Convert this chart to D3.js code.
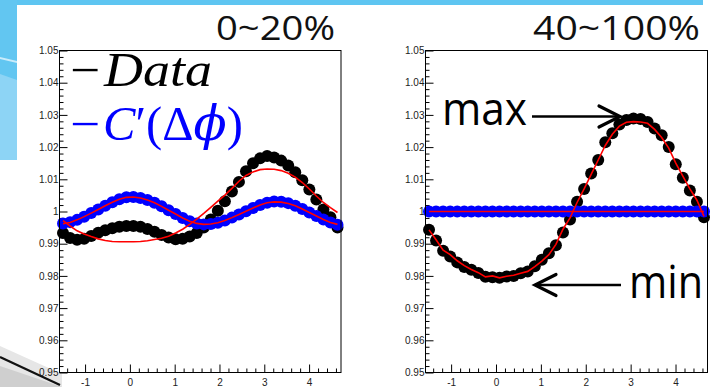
<!DOCTYPE html>
<html>
<head>
<meta charset="utf-8">
<script src="https://cdn.jsdelivr.net/npm/d3@7"></script>
<style>
  html, body { margin: 0; padding: 0; background: #fff; }
  svg { display: block; }
</style>
</head>
<body>
<div id="chart"></div>
<script>
// histogram binning in delta phi
const nBins = 40;
const phiLo = -Math.PI / 2;
const phiHi = 3 * Math.PI / 2;

// 0~20% panel
const leftData = [
  0.9933, 0.9918, 0.9912, 0.9915, 0.9924, 0.9934, 0.9942, 0.9948, 0.9953, 0.9955,
  0.9955, 0.9953, 0.9946, 0.9937, 0.9927, 0.9919, 0.9914, 0.9915, 0.9922, 0.9933,
  0.9950, 0.9975, 1.0002, 1.0032, 1.0062, 1.0092, 1.0125, 1.0150, 1.0165, 1.0172,
  1.0168, 1.0158, 1.0143, 1.0122, 1.0097, 1.0068, 1.0037, 1.0006, 0.9982, 0.9950
];
const leftCorr = [
  0.9963, 0.9967, 0.9974, 0.9984, 0.9995, 1.0006, 1.0018, 1.0029, 1.0038, 1.0044,
  1.0045, 1.0042, 1.0036, 1.0027, 1.0016, 1.0004, 0.9992, 0.9980, 0.9970, 0.9963,
  0.9960, 0.9961, 0.9965, 0.9972, 0.9981, 0.9991, 1.0001, 1.0011, 1.0020, 1.0027,
  1.0031, 1.0030, 1.0026, 1.0018, 1.0008, 0.9997, 0.9986, 0.9975, 0.9966, 0.9959
];
const leftDataFit = [
  0.9972, 0.9955, 0.9940, 0.9930, 0.9922, 0.9915, 0.9910, 0.9907, 0.9906, 0.9906,
  0.9906, 0.9907, 0.9909, 0.9913, 0.9917, 0.9923, 0.9933, 0.9945, 0.9960, 0.9976,
  0.9994, 1.0013, 1.0032, 1.0051, 1.0072, 1.0094, 1.0112, 1.0123, 1.0130, 1.0132,
  1.0131, 1.0127, 1.0119, 1.0107, 1.0090, 1.0070, 1.0048, 1.0028, 1.0012, 0.9997
];
const leftCorrFit = [
  0.9962, 0.9966, 0.9974, 0.9984, 0.9995, 1.0006, 1.0018, 1.0029, 1.0038, 1.0044,
  1.0045, 1.0042, 1.0036, 1.0027, 1.0016, 1.0004, 0.9992, 0.9980, 0.9970, 0.9963,
  0.9960, 0.9961, 0.9965, 0.9972, 0.9981, 0.9991, 1.0001, 1.0011, 1.0020, 1.0027,
  1.0030, 1.0029, 1.0025, 1.0018, 1.0008, 0.9997, 0.9986, 0.9975, 0.9966, 0.9960
];

// 40~100% panel
const rightData = [
  0.9943, 0.9910, 0.9878, 0.9860, 0.9842, 0.9828, 0.9819, 0.9809, 0.9797, 0.9796,
  0.9794, 0.9798, 0.9800, 0.9808, 0.9814, 0.9830, 0.9850, 0.9870, 0.9895, 0.9935,
  0.9975, 1.0030, 1.0070, 1.0118, 1.0160, 1.0215, 1.0243, 1.0270, 1.0284, 1.0289,
  1.0287, 1.0278, 1.0258, 1.0237, 1.0200, 1.0147, 1.0105, 1.0065, 1.0030, 0.9982
];
const rightCorr = [
  1.0000, 1.0000, 1.0000, 1.0000, 1.0000, 1.0000, 1.0000, 1.0000, 1.0000, 1.0000,
  1.0000, 1.0000, 1.0000, 1.0000, 1.0000, 1.0000, 1.0000, 1.0000, 1.0000, 1.0000,
  1.0000, 1.0000, 1.0000, 1.0000, 1.0000, 1.0000, 1.0000, 1.0000, 1.0000, 1.0000,
  1.0000, 1.0000, 1.0000, 1.0000, 1.0000, 1.0000, 1.0000, 1.0000, 1.0000, 1.0000
];
const rightDataFit = [
  0.9943, 0.9912, 0.9880, 0.9866, 0.9847, 0.9832, 0.9820, 0.9810, 0.9797, 0.9800,
  0.9794, 0.9799, 0.9802, 0.9808, 0.9814, 0.9829, 0.9846, 0.9866, 0.9898, 0.9945,
  0.9980, 1.0028, 1.0070, 1.0115, 1.0160, 1.0205, 1.0240, 1.0265, 1.0277, 1.0279,
  1.0278, 1.0274, 1.0255, 1.0230, 1.0197, 1.0150, 1.0110, 1.0070, 1.0035, 0.9985
];
const rightCorrFit = rightCorr;

const panelTitles = ['0~20%', '40~100%'];
const legendLabels = ['Data', "C′(Δϕ)"];

const width = 712;
const height = 387;
const yTop = 50.5;
const yBottom = 372.5;

const svg = d3.select('#chart')
  .append('svg')
  .attr('width', width)
  .attr('height', height);

// slide decoration
svg.append('rect').attr('x', 0).attr('y', 0).attr('width', 703).attr('height', 5).attr('fill', '#5ec5f1');
svg.append('rect').attr('x', 0).attr('y', 0).attr('width', 17).attr('height', 160).attr('fill', '#62c6f1');
svg.append('path').attr('d', 'M0,74 L17,80 L17,160 L0,160 Z').attr('fill', '#8dd4f5');
svg.append('path').attr('d', 'M0,57 L17,61 L17,63 L0,59 Z').attr('fill', '#c9ecfb');
svg.append('path').attr('d', 'M0,346 L62,374 L62,387 L0,387 Z').attr('fill', '#e6e6e6');
svg.append('path').attr('d', 'M0,366 L62,387 L0,387 Z').attr('fill', '#cfcfcf');
svg.append('path').attr('d', 'M0,357 L60,385').attr('stroke', '#111').attr('stroke-width', 2.2);

const fmtY = (d) => String(+d.toFixed(2));

const panels = [
  { x0: 59.5, x1: 341, data: leftData, corr: leftCorr, dataFit: leftDataFit, corrFit: leftCorrFit,
    title: panelTitles[0], titleX: 216, titleW: 119 },
  { x0: 425.5, x1: 707.5, data: rightData, corr: rightCorr, dataFit: rightDataFit, corrFit: rightCorrFit,
    title: panelTitles[1], titleX: 533, titleW: 167 }
];

const binWidth = (phiHi - phiLo) / nBins;
const centers = d3.range(nBins).map((i) => phiLo + (i + 0.5) * binWidth);

panels.forEach((p) => {
  const g = svg.append('g');

  const x = d3.scaleLinear().domain([phiLo, phiHi]).range([p.x0, p.x1]);
  const y = d3.scaleLinear().domain([0.95, 1.05]).range([yBottom, yTop]);

  g.append('rect')
    .attr('x', p.x0).attr('y', yTop)
    .attr('width', p.x1 - p.x0).attr('height', yBottom - yTop)
    .attr('fill', '#fff');

  // y axis
  const yMajor = d3.range(0, 11).map((k) => 0.95 + k * 0.01);
  const yMinor = d3.range(0, 51).map((k) => 0.95 + k * 0.002).filter((v, k) => k % 5 !== 0);
  const yAxis = g.append('g')
    .attr('transform', `translate(${p.x0},0)`)
    .call(d3.axisLeft(y).tickValues(yMajor).tickSize(-8).tickPadding(1).tickFormat(fmtY));
  yAxis.select('.domain').remove();
  g.append('g')
    .attr('transform', `translate(${p.x0},0)`)
    .call(d3.axisLeft(y).tickValues(yMinor).tickSize(-4).tickFormat(''))
    .select('.domain').remove();

  // x axis
  const xMajor = [-1, 0, 1, 2, 3, 4];
  const xMinor = d3.range(-7, 24).map((k) => k * 0.2).filter((v) => Math.abs(v - Math.round(v)) > 1e-6);
  const xAxis = g.append('g')
    .attr('transform', `translate(0,${yBottom})`)
    .call(d3.axisBottom(x).tickValues(xMajor).tickSize(-8).tickPadding(6).tickFormat((d) => String(d)));
  xAxis.select('.domain').remove();
  g.append('g')
    .attr('transform', `translate(0,${yBottom})`)
    .call(d3.axisBottom(x).tickValues(xMinor).tickSize(-4).tickFormat(''))
    .select('.domain').remove();

  g.selectAll('.tick line').attr('stroke', '#000').attr('stroke-width', 1);
  g.selectAll('.tick text')
    .attr('font-family', 'Liberation Sans, Arial, sans-serif')
    .attr('font-size', 10)
    .attr('fill', '#222');

  // markers
  const drawPoints = (vals, color) => {
    g.append('g')
      .selectAll('circle')
      .data(vals)
      .enter()
      .append('circle')
      .attr('cx', (d, i) => x(centers[i]))
      .attr('cy', (d) => y(d))
      .attr('r', 6)
      .attr('fill', color);
  };
  drawPoints(p.data, '#000');
  drawPoints(p.corr, '#0000ff');

  const line = d3.line()
    .x((d, i) => x(centers[i]))
    .y((d) => y(d));

  [p.dataFit, p.corrFit].forEach((vals) => {
    g.append('path')
      .datum(vals)
      .attr('fill', 'none')
      .attr('stroke', '#ff0000')
      .attr('stroke-width', 1.6)
      .attr('d', line);
  });

  // frame
  g.append('rect')
    .attr('x', p.x0).attr('y', yTop)
    .attr('width', p.x1 - p.x0).attr('height', yBottom - yTop)
    .attr('fill', 'none')
    .attr('stroke', '#000')
    .attr('stroke-width', 1);

  // title
  svg.append('text')
    .attr('x', p.titleX)
    .attr('y', 40)
    .attr('font-family', 'Open Sans, sans-serif')
    .attr('font-size', 33)
    .attr('fill', '#111')
    .attr('textLength', p.titleW)
    .attr('lengthAdjust', 'spacingAndGlyphs')
    .text(p.title);
});

// legend on the left panel
const serif = 'DejaVu Serif, Liberation Serif, serif';
const legendRows = [
  { label: legendLabels[0], color: '#000', base: 86, w: 108, x: 104 },
  { label: legendLabels[1], color: '#0000ff', base: 140, w: 140, x: 103 }
];
legendRows.forEach((r) => {
  svg.append('text')
    .attr('x', 70).attr('y', r.base)
    .attr('font-family', 'Liberation Serif, serif')
    .attr('font-size', 48)
    .attr('fill', r.color)
    .attr('textLength', 30)
    .attr('lengthAdjust', 'spacingAndGlyphs')
    .text('−');
  const t = svg.append('text')
    .attr('x', r.x).attr('y', r.base)
    .attr('font-family', 'Liberation Serif, serif')
    .attr('font-size', 48)
    .attr('fill', r.color)
    .attr('textLength', r.w)
    .attr('lengthAdjust', 'spacingAndGlyphs');
  if (r.label === 'Data') {
    t.append('tspan').attr('font-style', 'italic').text('Data');
  } else {
    t.append('tspan').attr('font-style', 'italic').text('C');
    t.append('tspan').text('′(Δ');
    t.append('tspan').attr('font-style', 'italic').attr('font-family', serif).attr('font-weight', 300).text('ϕ');
    t.append('tspan').text(')');
  }
});

// max / min annotations on the right panel
const annotate = (label, tx, base, tw, x1, x2, yLine, dir) => {
  svg.append('text')
    .attr('x', tx).attr('y', base)
    .attr('font-family', 'Open Sans, sans-serif')
    .attr('font-size', 46)
    .attr('fill', '#000')
    .attr('textLength', tw)
    .attr('lengthAdjust', 'spacingAndGlyphs')
    .text(label);
  svg.append('line')
    .attr('x1', x1).attr('x2', x2).attr('y1', yLine).attr('y2', yLine)
    .attr('stroke', '#000').attr('stroke-width', 2.6);
  svg.append('path')
    .attr('d', `M${x2 - dir * 21},${yLine - 10.5} L${x2},${yLine} L${x2 - dir * 21},${yLine + 10.5}`)
    .attr('fill', 'none')
    .attr('stroke', '#000')
    .attr('stroke-width', 3.2)
    .attr('stroke-linecap', 'round')
    .attr('stroke-linejoin', 'miter');
};
annotate('max', 442, 125, 85, 532, 620, 116.5, 1);
annotate('min', 629, 298, 74, 621, 535, 285, -1);
</script>
</body>
</html>
